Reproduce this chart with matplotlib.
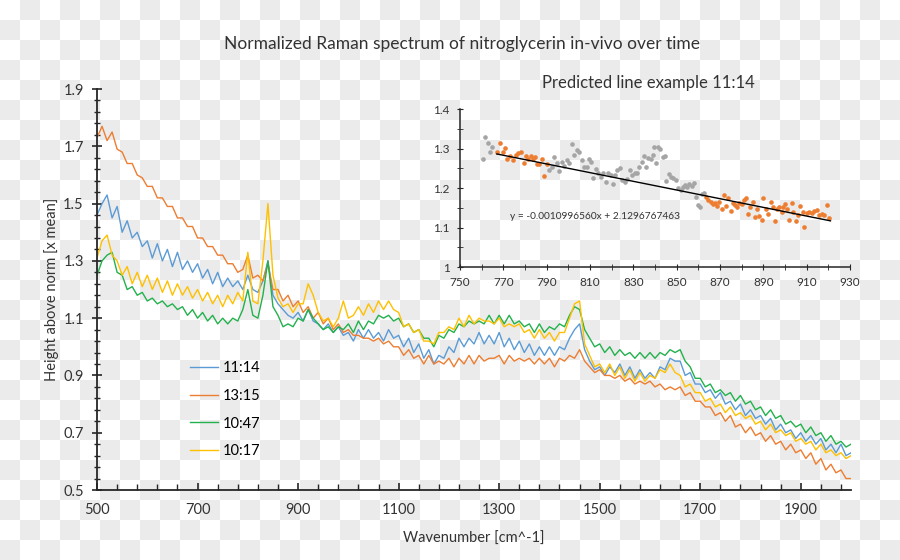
import numpy as np
import matplotlib
matplotlib.use("Agg")
import matplotlib.pyplot as plt
import matplotlib.ticker as tic

plt.rcParams['font.family'] = ['Lato', 'DejaVu Sans']

# wavenumber grid of the spectra [cm^-1]
wavenumber = np.arange(500, 2001, 10)

# 11:14
spec_1114 = [
    1.46, 1.50, 1.53, 1.45, 1.49, 1.40, 1.44, 1.38, 1.40, 1.35,
    1.37, 1.31, 1.36, 1.30, 1.34, 1.28, 1.33, 1.27, 1.30, 1.26,
    1.29, 1.24, 1.27, 1.22, 1.26, 1.21, 1.24, 1.21, 1.23, 1.20,
    1.25, 1.20, 1.19, 1.23, 1.30, 1.18, 1.15, 1.13, 1.11, 1.10,
    1.12, 1.09, 1.13, 1.09, 1.08, 1.06, 1.08, 1.05, 1.07, 1.04,
    1.05, 1.02, 1.06, 1.03, 1.06, 1.03, 1.05, 1.02, 1.06, 1.03,
    1.04, 1.00, 1.03, 0.98, 1.01, 0.96, 0.99, 0.94, 0.97, 0.96,
    1.00, 0.98, 1.03, 1.00, 1.03, 1.01, 1.05, 1.01, 1.04, 1.01,
    1.05, 1.00, 1.03, 0.99, 1.02, 0.98, 1.01, 0.97, 1.00, 0.97,
    1.00, 0.97, 1.00, 0.99, 1.03, 1.06, 1.08, 0.99, 0.95, 0.92,
    0.93, 0.90, 0.93, 0.91, 0.94, 0.90, 0.93, 0.89, 0.92, 0.89,
    0.91, 0.89, 0.93, 0.92, 0.96, 0.95, 0.95, 0.90, 0.91, 0.87,
    0.87, 0.84, 0.85, 0.82, 0.84, 0.80, 0.81, 0.78, 0.80, 0.76,
    0.78, 0.75, 0.76, 0.73, 0.75, 0.71, 0.73, 0.70, 0.71, 0.68,
    0.70, 0.67, 0.69, 0.66, 0.68, 0.64, 0.66, 0.63, 0.66, 0.62,
    0.63]

# 13:15
spec_1315 = [
    1.73, 1.77, 1.72, 1.75, 1.69, 1.68, 1.64, 1.64, 1.60, 1.59,
    1.56, 1.56, 1.52, 1.52, 1.49, 1.49, 1.45, 1.45, 1.42, 1.42,
    1.38, 1.38, 1.35, 1.35, 1.32, 1.32, 1.29, 1.29, 1.26, 1.27,
    1.32, 1.24, 1.25, 1.23, 1.29, 1.20, 1.20, 1.16, 1.18, 1.14,
    1.16, 1.12, 1.14, 1.10, 1.12, 1.08, 1.10, 1.06, 1.08, 1.05,
    1.06, 1.04, 1.04, 1.03, 1.03, 1.02, 1.03, 1.01, 1.02, 1.00,
    1.00, 0.97, 0.99, 0.96, 0.97, 0.94, 0.97, 0.94, 0.95, 0.94,
    0.96, 0.93, 0.96, 0.94, 0.97, 0.94, 0.97, 0.95, 0.96, 0.96,
    0.97, 0.94, 0.97, 0.95, 0.96, 0.95, 0.96, 0.94, 0.96, 0.94,
    0.96, 0.93, 0.96, 0.95, 0.97, 0.96, 0.99, 0.95, 0.93, 0.91,
    0.92, 0.90, 0.90, 0.89, 0.90, 0.88, 0.89, 0.87, 0.88, 0.87,
    0.88, 0.86, 0.87, 0.85, 0.86, 0.85, 0.86, 0.83, 0.84, 0.81,
    0.81, 0.79, 0.79, 0.76, 0.77, 0.74, 0.76, 0.72, 0.73, 0.70,
    0.72, 0.69, 0.70, 0.67, 0.69, 0.66, 0.67, 0.64, 0.66, 0.63,
    0.64, 0.61, 0.63, 0.59, 0.61, 0.57, 0.59, 0.56, 0.57, 0.54,
    0.54]

# 10:47
spec_1047 = [
    1.25, 1.30, 1.32, 1.33, 1.26, 1.25, 1.20, 1.21, 1.18, 1.19,
    1.16, 1.17, 1.15, 1.16, 1.14, 1.15, 1.13, 1.14, 1.11, 1.13,
    1.10, 1.12, 1.09, 1.11, 1.08, 1.10, 1.08, 1.10, 1.09, 1.13,
    1.20, 1.11, 1.10, 1.18, 1.30, 1.14, 1.11, 1.07, 1.08, 1.07,
    1.10, 1.09, 1.13, 1.10, 1.08, 1.06, 1.07, 1.05, 1.07, 1.06,
    1.08, 1.05, 1.09, 1.06, 1.09, 1.08, 1.11, 1.10, 1.11, 1.09,
    1.10, 1.07, 1.08, 1.05, 1.06, 1.03, 1.03, 1.00, 1.04, 1.03,
    1.06, 1.05, 1.08, 1.07, 1.09, 1.08, 1.09, 1.08, 1.11, 1.08,
    1.11, 1.08, 1.11, 1.08, 1.09, 1.07, 1.08, 1.05, 1.08, 1.05,
    1.07, 1.06, 1.08, 1.07, 1.11, 1.14, 1.13, 1.06, 1.03, 1.00,
    1.01, 0.98, 1.00, 0.97, 0.99, 0.97, 0.98, 0.96, 0.98, 0.96,
    0.98, 0.96, 0.98, 0.97, 0.99, 0.98, 0.99, 0.95, 0.93, 0.89,
    0.89, 0.86, 0.87, 0.84, 0.85, 0.83, 0.84, 0.81, 0.83, 0.80,
    0.81, 0.78, 0.79, 0.76, 0.78, 0.75, 0.76, 0.73, 0.74, 0.72,
    0.73, 0.70, 0.72, 0.69, 0.70, 0.67, 0.69, 0.66, 0.67, 0.65,
    0.66]

# 10:17
spec_1017 = [
    1.31, 1.37, 1.39, 1.32, 1.30, 1.25, 1.28, 1.22, 1.26, 1.21,
    1.25, 1.20, 1.24, 1.19, 1.23, 1.18, 1.22, 1.18, 1.21, 1.17,
    1.20, 1.16, 1.19, 1.15, 1.18, 1.14, 1.18, 1.15, 1.19, 1.16,
    1.33, 1.16, 1.15, 1.30, 1.50, 1.25, 1.17, 1.14, 1.15, 1.12,
    1.15, 1.15, 1.22, 1.18, 1.12, 1.09, 1.10, 1.07, 1.10, 1.16,
    1.10, 1.11, 1.14, 1.11, 1.15, 1.12, 1.16, 1.13, 1.16, 1.13,
    1.12, 1.07, 1.08, 1.05, 1.06, 1.02, 1.02, 1.01, 1.05, 1.05,
    1.07, 1.06, 1.10, 1.07, 1.11, 1.08, 1.10, 1.09, 1.09, 1.08,
    1.10, 1.07, 1.08, 1.07, 1.08, 1.05, 1.06, 1.03, 1.06, 1.03,
    1.05, 1.02, 1.05, 1.05, 1.10, 1.15, 1.16, 1.01, 0.97, 0.93,
    0.94, 0.91, 0.94, 0.90, 0.93, 0.89, 0.92, 0.88, 0.91, 0.88,
    0.90, 0.89, 0.92, 0.91, 0.94, 0.91, 0.90, 0.86, 0.87, 0.84,
    0.84, 0.81, 0.82, 0.79, 0.80, 0.77, 0.79, 0.76, 0.77, 0.75,
    0.76, 0.73, 0.74, 0.71, 0.73, 0.70, 0.71, 0.69, 0.70, 0.67,
    0.68, 0.66, 0.67, 0.64, 0.66, 0.63, 0.64, 0.62, 0.63, 0.61,
    0.62]

series_labels = ['11:14', '13:15', '10:47', '10:17']
series_colors = ['#5B9BD5', '#ED7D31', '#22B14C', '#FFC000']

# inset: points left out of the fit (gray) and used for the fit (orange)
gray_x = [760.8, 761.5, 762.8, 763.8, 764.9, 791.2, 792.3, 793.4, 794.6, 795.8,
          796.9, 798.0, 799.2, 800.5, 801.5, 802.6, 803.8, 805.1, 806.2, 807.2,
          808.5, 809.5, 810.5, 811.5, 812.8, 813.8, 815.1, 816.2, 817.2, 818.5,
          819.5, 820.5, 821.5, 822.6, 823.8, 824.9, 826.2, 827.2, 828.5, 829.5,
          830.8, 831.8, 832.8, 833.8, 835.0, 835.8, 836.9, 838.0, 838.9, 839.5,
          840.5, 841.5, 842.5, 843.5, 844.6, 845.1, 846.3, 847.2, 848.5, 849.7,
          850.8, 851.8, 852.8, 853.8, 854.9, 855.8, 856.9, 858.0, 858.9, 860.0,
          860.8, 861.5, 862.6]
gray_y = [1.273, 1.329, 1.315, 1.292, 1.303, 1.246, 1.254, 1.278, 1.263, 1.242,
          1.267, 1.256, 1.271, 1.263, 1.312, 1.284, 1.297, 1.290, 1.271, 1.253,
          1.254, 1.273, 1.267, 1.225, 1.247, 1.239, 1.227, 1.237, 1.216, 1.239,
          1.233, 1.210, 1.233, 1.246, 1.250, 1.220, 1.216, 1.222, 1.246, 1.233,
          1.239, 1.237, 1.253, 1.267, 1.280, 1.254, 1.275, 1.273, 1.284, 1.305,
          1.264, 1.303, 1.298, 1.278, 1.281, 1.219, 1.236, 1.229, 1.225, 1.220,
          1.199, 1.195, 1.203, 1.208, 1.203, 1.210, 1.205, 1.212, 1.178, 1.157,
          1.151, 1.186, 1.188]
orange_x = [766.9, 768.5, 769.7, 770.8, 771.8, 773.0, 774.6, 775.8, 776.9, 778.0,
            779.5, 780.5, 781.5, 782.6, 783.5, 784.6, 785.7, 786.6, 787.7, 788.8,
            790.0, 863.5, 864.6, 865.7, 866.6, 867.7, 868.8, 869.7, 870.8, 871.8,
            872.8, 873.8, 874.9, 875.8, 876.9, 878.0, 878.9, 880.0, 881.1, 882.0,
            883.1, 883.8, 885.1, 886.2, 887.2, 888.2, 889.2, 890.0, 891.2, 892.3,
            893.4, 894.3, 895.4, 896.5, 897.4, 898.5, 899.2, 900.0, 901.1, 902.0,
            903.1, 903.8, 905.1, 906.2, 906.9, 908.2, 909.0, 910.0, 911.2, 912.3,
            913.4, 914.6, 915.8, 916.9, 918.0, 919.2, 920.5]
orange_y = [1.292, 1.314, 1.292, 1.301, 1.273, 1.280, 1.271, 1.284, 1.288, 1.292,
            1.264, 1.280, 1.273, 1.280, 1.273, 1.278, 1.261, 1.261, 1.273, 1.231,
            1.261, 1.176, 1.169, 1.165, 1.159, 1.163, 1.154, 1.165, 1.148, 1.182,
            1.154, 1.175, 1.142, 1.163, 1.157, 1.153, 1.163, 1.159, 1.169, 1.174,
            1.134, 1.153, 1.165, 1.127, 1.146, 1.129, 1.119, 1.174, 1.146, 1.134,
            1.165, 1.153, 1.117, 1.146, 1.151, 1.140, 1.153, 1.159, 1.148, 1.120,
            1.161, 1.140, 1.117, 1.131, 1.154, 1.140, 1.102, 1.137, 1.140, 1.137,
            1.142, 1.144, 1.131, 1.134, 1.131, 1.157, 1.125]
fit_slope = -0.0010996560
fit_icept = 2.1296767463
fit_range = [767, 921]

fig = plt.figure(figsize=(9, 5.6), dpi=100)

# transparent-background checkerboard as in the reference
yy, xx = np.mgrid[0:560, 0:900]
checker = np.where(((yy // 20) + (xx // 20)) % 2 == 0, 1.0, 235 / 255.)
fig.figimage(np.dstack([checker] * 3), xo=0, yo=0, origin='upper', zorder=-10)

ax = fig.add_axes([0.1078, 0.125, 0.8378, 0.716])
ax.set_facecolor('none')
specs = [spec_1114, spec_1315, spec_1047, spec_1017]
for sp, lab, col in zip(specs, series_labels, series_colors):
    ax.plot(wavenumber, sp, color=col, lw=1.0, label=lab)

ax.set_xlim(500, 2000)
ax.set_ylim(0.5, 1.9)
ax.xaxis.set_major_locator(tic.FixedLocator(np.arange(500, 2000, 200)))
ax.xaxis.set_minor_locator(tic.FixedLocator(np.arange(500, 2001, 40)))
ax.yaxis.set_major_locator(tic.FixedLocator(np.arange(0.5, 1.91, 0.2)))
ax.yaxis.set_minor_locator(tic.FixedLocator(np.arange(0.5, 1.91, 0.04)))
ax.yaxis.set_major_formatter(tic.FormatStrFormatter('%g'))
for s in ['top', 'right']:
    ax.spines[s].set_visible(False)
for s in ['left', 'bottom']:
    ax.spines[s].set_color('#262626')
    ax.spines[s].set_linewidth(1.3)
ax.tick_params(axis='x', which='both', direction='in', colors='#262626',
               labelcolor='#333333', labelsize=10.5, pad=9)
ax.tick_params(axis='x', which='major', length=5, width=1.2)
ax.tick_params(axis='x', which='minor', length=4, width=1)
ax.tick_params(axis='y', which='both', direction='inout', colors='#262626',
               labelcolor='#333333', labelsize=10.5, pad=6)
ax.tick_params(axis='y', which='major', length=7, width=1.2)
ax.tick_params(axis='y', which='minor', length=5, width=1)
ax.set_xlabel('Wavenumber [cm^-1]', fontsize=10.5, color='#333333', labelpad=11)
ax.set_ylabel('Height above norm [x mean]', fontsize=10.5, color='#333333', labelpad=3)

fig.text(0.513, 0.921, 'Normalized Raman spectrum of nitroglycerin in-vivo over time',
         ha='center', va='center', fontsize=12.5, color='#333333')

ax.legend(loc='upper left', bbox_to_anchor=(0.205, 0.366), bbox_transform=fig.transFigure,
          frameon=False, fontsize=10.5, handlelength=1.9, handletextpad=0.35,
          labelspacing=0.95, borderaxespad=0)

# inset with the linear fit
ins = fig.add_axes([0.5111, 0.5232, 0.4333, 0.2821])
ins.set_facecolor('none')
ins.scatter(gray_x, gray_y, s=11, color='#A5A5A5', linewidths=0)
ins.scatter(orange_x, orange_y, s=11, color='#ED7D31', linewidths=0)
fx = np.array(fit_range)
ins.plot(fx, fit_slope * fx + fit_icept, color='black', lw=1)
ins.text(0.127, 0.317, 'y = -0.0010996560x + 2.1296767463', transform=ins.transAxes,
         fontsize=7.3, color='#333333', va='center')
ins.set_xlim(750, 930)
ins.set_ylim(1.0, 1.4)
ins.xaxis.set_major_locator(tic.FixedLocator(np.arange(750, 931, 20)))
ins.xaxis.set_minor_locator(tic.FixedLocator(np.arange(750, 931, 10)))
ins.yaxis.set_major_locator(tic.MultipleLocator(0.1))
ins.yaxis.set_minor_locator(tic.MultipleLocator(0.05))
ins.yaxis.set_major_formatter(tic.FormatStrFormatter('%g'))
for s in ['top', 'right']:
    ins.spines[s].set_visible(False)
for s in ['left', 'bottom']:
    ins.spines[s].set_color('#262626')
    ins.spines[s].set_linewidth(1.1)
ins.tick_params(which='both', direction='inout', colors='#262626',
                labelcolor='#333333', labelsize=8.5, pad=5)
ins.tick_params(which='major', length=5)
ins.tick_params(which='minor', length=4)
fig.text(648 / 900, 1 - 83 / 560, 'Predicted line example 11:14', ha='center',
         va='center', fontsize=12, color='#333333')

fig.savefig('out.png', dpi=100)
